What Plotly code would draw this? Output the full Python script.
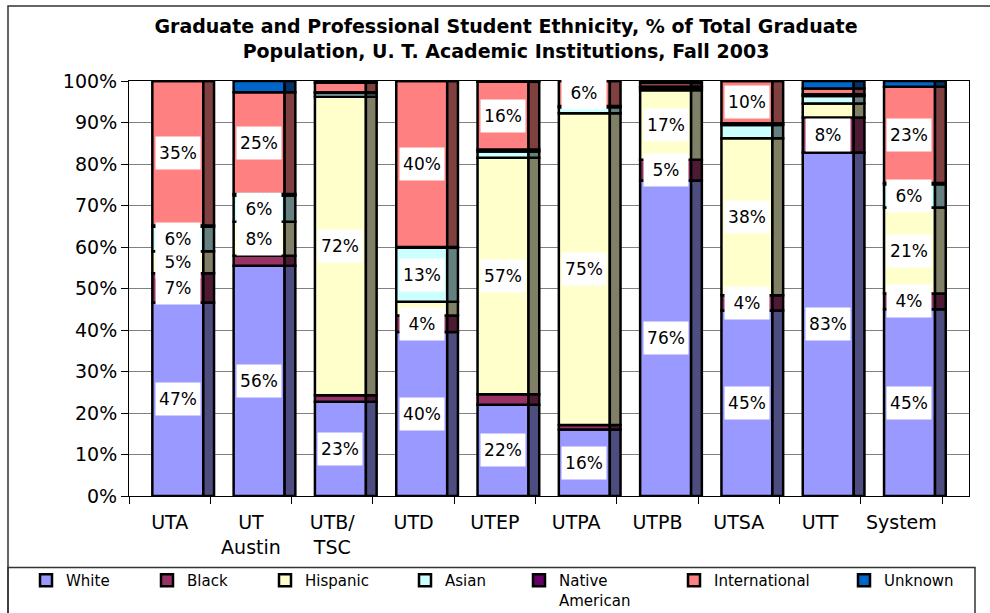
import plotly.graph_objects as go

# ---------------- data ----------------
categories = ["UTA", "UT<br>Austin", "UTB/<br>TSC", "UTD", "UTEP", "UTPA", "UTPB", "UTSA", "UTT", "System"]

white         = [46.6, 55.5, 22.7, 39.5, 22.0, 16.0, 76.0, 44.7, 82.8, 45.0]
black         = [ 7.1,  2.4,  1.6,  4.0,  2.5,  1.1,  5.0,  3.7,  8.4,  3.8]
hispanic      = [ 5.3,  8.2, 71.9,  3.3, 57.0, 75.1, 16.8, 37.8,  3.4, 20.7]
asian         = [ 5.9,  6.3,  0.9, 13.0,  1.5,  1.5,  0.6,  3.2,  1.8,  5.6]
native        = [ 0.3,  0.4,  0.2,  0.2,  0.5,  0.3,  0.3,  0.4,  0.4,  0.3]
international = [34.8, 24.5,  2.3, 40.0, 16.3,  6.0,  0.8, 10.2,  1.4, 23.2]
unknown       = [ 0.0,  2.7,  0.4,  0.0,  0.2,  0.0,  0.5,  0.0,  1.8,  1.4]

series_names = ["White", "Black", "Hispanic", "Asian", "Native<br>American", "International", "Unknown"]
series_vals = [white, black, hispanic, asian, native, international, unknown]

y_ticks = [0, 10, 20, 30, 40, 50, 60, 70, 80, 90, 100]
y_tick_text = ["0%", "10%", "20%", "30%", "40%", "50%", "60%", "70%", "80%", "90%", "100%"]

# ---------------- style ----------------
front_colors = ["#9999FF", "#993366", "#FFFFCC", "#CCFFFF", "#660066", "#FF8080", "#0066CC"]
side_colors = ["#4D4D80", "#4D1A33", "#808066", "#668080", "#330033", "#804040", "#003366"]
legend_px = [40, 161, 279, 419, 533, 688, 858]   # left edge of legend squares (pixels)

W, H = 990, 613
L, R, T, B = 129, 21, 81, 117
plot_w = W - L - R
plot_h = H - T - B

FONT = "DejaVu Sans"

fig = go.Figure()

n = len(categories)
bases = [0.0] * n
annotations = []
for k, (name, vals) in enumerate(zip(series_names, series_vals)):
    leg = "legend" if k == 0 else f"legend{k+1}"
    fig.add_trace(go.Bar(
        x=categories, y=vals, base=list(bases), name=name,
        width=0.627, offset=-0.213,
        marker=dict(color=front_colors[k], line=dict(color="black", width=2.5)),
        legend=leg, hoverinfo="skip",
    ))
    fig.add_trace(go.Bar(
        x=categories, y=vals, base=list(bases), name=name,
        width=0.132, offset=0.414,
        marker=dict(color=side_colors[k], line=dict(color="black", width=2.5)),
        showlegend=False, hoverinfo="skip",
    ))
    for i, v in enumerate(vals):
        if v >= 3.5:
            annotations.append(dict(
                x=i + 0.10, y=bases[i] + v / 2, xref="x", yref="y",
                text=f"{int(v + 0.5)}%", showarrow=False,
                bgcolor="white", width=40, height=28, borderpad=2,
                font=dict(family=FONT, size=17, color="black"),
            ))
    bases = [b + v for b, v in zip(bases, vals)]


def px_x(px):
    return (px - L) / plot_w


def px_y(py):
    return (H - B - py) / plot_h


shapes = [
    dict(type="rect", xref="paper", yref="paper",
         x0=px_x(8), x1=px_x(1005), y0=px_y(630), y1=px_y(6),
         line=dict(color="#333333", width=1.5), fillcolor="rgba(0,0,0,0)", layer="below"),
    dict(type="rect", xref="paper", yref="paper",
         x0=px_x(8), x1=px_x(975), y0=px_y(630), y1=px_y(567.5),
         line=dict(color="#333333", width=1.5), fillcolor="rgba(0,0,0,0)"),
]

layout_legends = {}
for k in range(len(series_names)):
    key = "legend" if k == 0 else f"legend{k+1}"
    layout_legends[key] = dict(
        x=(legend_px[k] - 14) / W, y=1 - 564 / H,
        xref="container", yref="container",
        xanchor="left", yanchor="top", orientation="h",
        bgcolor="rgba(0,0,0,0)", borderwidth=0,
        font=dict(family=FONT, size=15, color="black"),
        valign="top", itemclick=False, itemdoubleclick=False,
    )

fig.update_layout(
    width=W, height=H, autosize=False,
    margin=dict(l=L, r=R, t=T, b=B, pad=0, autoexpand=False),
    paper_bgcolor="white", plot_bgcolor="white",
    barmode="overlay",
    title=dict(
        text="Graduate and Professional Student Ethnicity, % of Total Graduate<br>"
             "Population, U. T. Academic Institutions, Fall 2003",
        x=506 / W, xanchor="center", xref="container",
        y=1 - 33 / H, yanchor="top", yref="container",
        font=dict(family=FONT, size=19, color="black", weight="bold"),
    ),
    xaxis=dict(
        type="category", range=[-0.5, 9.832], tickson="boundaries",
        ticks="outside", ticklen=7, tickcolor="black", tickwidth=1,
        showline=True, linecolor="black", linewidth=1, mirror=True,
        showgrid=False, zeroline=False, automargin=False, tickangle=0,
        ticklabelstandoff=9,
        tickfont=dict(family=FONT, size=19, color="black"),
    ),
    yaxis=dict(
        range=[0, 100], tickmode="array", tickvals=y_ticks, ticktext=y_tick_text,
        ticks="outside", ticklen=7, tickcolor="black", tickwidth=1,
        showline=True, linecolor="black", linewidth=1, mirror=True,
        showgrid=True, gridcolor="#808080", gridwidth=1, zeroline=False, automargin=False,
        tickfont=dict(family=FONT, size=19, color="black"),
    ),
    annotations=annotations,
    shapes=shapes,
    **layout_legends,
)

fig.write_html(
    "out.html",
    config={"displayModeBar": False},
    post_script="document.body.style.margin='0px';document.body.style.overflow='hidden';"
                "document.documentElement.style.overflow='hidden';",
)
